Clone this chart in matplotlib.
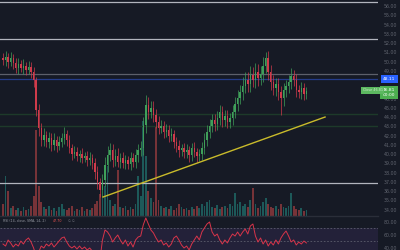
import matplotlib
matplotlib.use('Agg')
import matplotlib.pyplot as plt
from matplotlib.transforms import blended_transform_factory

# candle closes (price)
close = [50.16, 50.49, 49.95, 50.38, 49.84, 49.30, 49.73, 49.30, 49.52, 49.08,
         49.41, 48.87, 48.00, 44.76, 42.81, 41.52, 42.06, 41.30, 41.73, 40.98,
         41.52, 40.87, 41.30, 41.73, 42.16, 41.52, 40.65, 40.00, 40.22, 39.79,
         40.00, 39.57, 39.79, 39.35, 39.57, 39.03, 38.06, 36.98, 36.11, 37.19,
         38.81, 39.89, 40.44, 39.35, 39.79, 39.14, 39.57, 39.03, 39.35, 38.92,
         39.57, 39.14, 39.89, 40.44, 40.65, 43.14, 45.30, 44.54, 44.98, 44.22,
         43.46, 42.81, 43.03, 42.38, 42.60, 41.95, 42.16, 41.30, 40.87, 40.44,
         40.65, 40.22, 40.44, 39.89, 40.65, 40.22, 39.79, 40.00, 40.65, 41.52,
         42.38, 43.03, 43.68, 43.25, 43.89, 44.54, 43.68, 44.11, 43.46, 43.89,
         44.54, 45.41, 46.06, 46.70, 47.35, 48.00, 47.57, 48.54, 48.00, 48.87,
         48.22, 48.65, 49.52, 50.38, 48.87, 47.79, 47.14, 47.57, 46.70, 46.06,
         46.92, 47.35, 47.79, 48.43, 48.00, 46.92, 46.70, 47.14, 46.49, 46.81]
first_open = 50.40

wick_up = [0.55, 0.70, 0.40, 0.60, 0.45, 0.50, 0.65, 0.40, 0.70, 0.45,
           0.60, 0.50, 0.55, 0.30, 0.70, 0.55, 0.80, 0.45, 0.60, 0.50,
           0.75, 0.40, 0.60, 0.55, 0.80, 0.45, 0.50, 0.40, 0.65, 0.50,
           0.45, 0.60, 0.40, 0.55, 0.65, 0.45, 0.50, 0.60, 0.40, 0.70,
           0.90, 1.00, 0.75, 0.60, 0.70, 0.85, 0.50, 0.60, 0.55, 0.45,
           0.60, 0.50, 0.70, 0.60, 0.80, 0.90, 1.10, 0.90, 0.80, 0.70,
           0.60, 0.65, 0.60, 0.50, 0.60, 0.55, 0.60, 0.45, 0.50, 0.60,
           0.45, 0.50, 0.60, 0.45, 0.55, 0.60, 0.45, 0.50, 0.60, 0.70,
           0.75, 0.80, 0.70, 0.60, 0.75, 0.80, 0.60, 0.70, 0.60, 0.55,
           0.75, 0.80, 0.90, 0.75, 0.95, 0.90, 0.85, 1.00, 0.90, 0.95,
           0.85, 0.90, 1.00, 0.65, 0.75, 0.70, 0.75, 0.60, 0.70, 0.60,
           0.75, 0.70, 0.80, 0.85, 0.70, 0.60, 0.50, 0.60, 0.50, 0.40]
wick_dn = [0.50, 0.60, 0.70, 0.45, 0.60, 0.50, 0.70, 0.45, 0.60, 0.50,
           0.45, 0.70, 0.80, 0.60, 0.85, 0.60, 0.70, 0.50, 0.60, 0.70,
           0.50, 0.60, 0.45, 0.50, 0.60, 0.70, 0.50, 0.60, 0.45, 0.50,
           0.60, 0.50, 0.45, 0.60, 0.50, 0.60, 0.75, 0.80, 0.76, 0.75,
           0.70, 0.80, 0.60, 0.70, 0.60, 0.50, 0.60, 0.50, 0.60, 0.50,
           0.60, 0.50, 0.60, 0.70, 0.60, 0.75, 0.85, 0.80, 0.70, 0.80,
           0.70, 0.60, 0.50, 0.60, 0.50, 0.60, 0.50, 0.60, 0.70, 0.80,
           0.60, 0.70, 0.60, 0.70, 0.60, 0.50, 0.60, 0.50, 0.60, 0.70,
           0.60, 0.70, 0.60, 0.80, 0.60, 0.70, 0.80, 0.60, 0.70, 0.60,
           0.70, 0.60, 0.80, 0.70, 0.85, 0.80, 0.90, 0.85, 0.80, 0.90,
           0.85, 0.80, 0.85, 0.80, 0.90, 0.85, 0.80, 0.85, 0.90, 1.80,
           0.90, 0.80, 0.70, 0.80, 0.70, 0.80, 0.60, 0.70, 0.60, 0.50]

# volume (thousands)
volume = [12, 40, 25, 8, 10, 6, 8, 5, 9, 6,
          7, 10, 20, 86, 30, 14, 9, 7, 10, 6,
          8, 5, 9, 12, 7, 6, 8, 10, 5, 7,
          6, 9, 5, 7, 6, 8, 12, 15, 22, 18,
          30, 50, 16, 10, 12, 46, 9, 8, 10, 6,
          9, 7, 12, 40, 20, 95, 60, 25, 18, 14,
          90, 16, 10, 8, 9, 7, 10, 6, 8, 12,
          9, 7, 8, 6, 9, 7, 10, 8, 12, 10,
          14, 16, 9, 8, 11, 7, 9, 10, 8, 12,
          10, 23, 12, 14, 10, 12, 9, 16, 28, 12,
          8, 10, 14, 18, 12, 9, 8, 10, 7, 12,
          9, 8, 10, 23, 10, 7, 6, 8, 5, 6]

rsi = [46.1, 43.0, 52.3, 47.7, 41.5, 46.1, 43.0, 50.7, 46.1, 52.3,
       55.4, 49.2, 40.0, 27.6, 33.8, 43.0, 40.0, 46.1, 43.0, 47.7,
       41.5, 46.1, 50.7, 55.4, 56.9, 49.2, 43.0, 40.0, 43.0, 38.4,
       43.0, 38.4, 41.5, 36.9, 40.0, 35.3, 30.7, 24.6, 21.5, 52.3,
       67.7, 64.6, 58.4, 49.2, 55.4, 60.0, 52.3, 46.1, 52.3, 43.0,
       49.2, 41.5, 52.3, 56.9, 58.4, 75.4, 86.2, 76.9, 67.7, 63.1,
       55.4, 49.2, 52.3, 44.6, 47.7, 41.5, 46.1, 55.4, 58.4, 52.3,
       44.6, 40.0, 43.0, 36.9, 46.1, 52.3, 58.4, 52.3, 64.6, 70.8,
       76.9, 80.0, 64.6, 58.4, 61.5, 52.3, 46.1, 52.3, 47.7, 55.4,
       61.5, 58.4, 64.6, 58.4, 64.6, 69.2, 61.5, 73.8, 76.9, 58.4,
       49.2, 55.4, 46.1, 52.3, 43.0, 49.2, 44.6, 52.3, 46.1, 55.4,
       61.5, 66.1, 58.4, 49.2, 52.3, 44.6, 49.2, 46.1, 50.7, 47.7]

levels_light = [56.43, 52.43, 36.87]
level_gray = 48.65
level_blue = 48.11
levels_green = [44.33, 43.03]
trend_x = [39.2, 126.3]
trend_y = [35.35, 44.00]
# 47 and 48 sit under the last-price and level labels
price_ticks = [t for t in range(34, 57) if t not in (47, 48)]
rsi_ticks = [40, 60, 80]
last_time = '00:00'

bg = '#161a25'
up_c, dn_c = '#3f9f5a', '#cf3b4b'
txt_c = '#5f636e'

fig = plt.figure(figsize=(4, 2.5), dpi=100, facecolor=bg)
ax = fig.add_axes([0, 0.136, 0.945, 0.864])
axv = ax.twinx()
axr = fig.add_axes([0, 0, 0.945, 0.136])
ax.set_zorder(axv.get_zorder() + 1)
ax.patch.set_visible(False)
axv.patch.set_facecolor(bg)
axr.set_facecolor(bg)

n = len(close)
x = list(range(n))
opens = [first_open] + close[:-1]
cols = [up_c if c >= o else dn_c for o, c in zip(opens, close)]
highs = [max(o, c) + w for o, c, w in zip(opens, close, wick_up)]
lows = [min(o, c) - w for o, c, w in zip(opens, close, wick_dn)]

# levels and trendline
for lv in levels_light:
    ax.axhline(lv, color='#b2b5be', lw=0.9, zorder=1)
ax.axhline(level_gray, color='#5d606b', lw=0.9, zorder=1)
ax.axhline(level_blue, color='#243c8a', lw=0.9, zorder=1)
for lv in levels_green:
    ax.axhline(lv, color='#1d3a2a', lw=1.0, zorder=1)

# candles
ax.vlines(x, lows, highs, colors=cols, lw=0.5, zorder=3)
ax.bar(x, [max(abs(c - o), 0.04) for o, c in zip(opens, close)],
       bottom=[min(o, c) for o, c in zip(opens, close)],
       width=0.55, color=cols, zorder=4)
ax.plot(trend_x, trend_y, color='#c9bb2b', lw=1.0, zorder=5)

ax.set_xlim(-1.18, 147.06)
ax.set_ylim(33.30, 56.65)
ax.yaxis.tick_right()
ax.set_yticks(price_ticks)
ax.set_yticklabels([f'{t:.2f}' for t in price_ticks])
ax.tick_params(axis='y', length=0, pad=4, labelsize=3.4, labelcolor=txt_c)
ax.set_xticks([])

# volume overlay
axv.bar(x, volume, width=0.7, color=['#26a69a' if c == up_c else '#ef5350' for c in cols],
        alpha=0.45)
axv.set_ylim(0, max(volume) * 2.27)
axv.set_yticks([])

for a in (ax, axv, axr):
    for s in a.spines.values():
        s.set_visible(False)

# price labels on the scale
tr = blended_transform_factory(ax.transAxes, ax.transData)
ax.text(1.013, level_blue, f'{level_blue:.2f}', transform=tr, fontsize=3.2, color='white',
        va='center', ha='left', zorder=10, clip_on=False,
        bbox=dict(boxstyle='square,pad=0.5', fc='#2962ff', ec='none'))
ax.text(1.013, close[-1] - 0.15, f'{close[-1]:.2f}\n{last_time}', transform=tr, fontsize=3.2,
        color='white', va='center', ha='left', linespacing=1.1, zorder=10, clip_on=False,
        bbox=dict(boxstyle='square,pad=0.6', fc='#4caf50', ec='none'))
ax.text(141.0, close[-1] + 0.1, 'Close 46.81', fontsize=2.4, color='#cfe8cf', va='center',
        ha='left', zorder=10, bbox=dict(boxstyle='square,pad=0.45', fc='#5cb860', ec='none'))

# RSI pane
axr.axhspan(30, 70, color='#7e57c2', alpha=0.13, lw=0)
axr.axhline(70, color='#787b86', lw=0.4, ls=(0, (3, 3)))
axr.axhline(50, color='#787b86', lw=0.4, ls=(0, (3, 3)))
axr.plot(x, rsi, color='#d8344a', lw=0.7)
axr.set_xlim(-1.18, 147.06)
axr.set_ylim(36.9, 89.2)
axr.yaxis.tick_right()
axr.set_yticks(rsi_ticks)
axr.set_yticklabels([f'{t:.2f}' for t in rsi_ticks])
axr.tick_params(axis='y', length=0, pad=4, labelsize=3.4, labelcolor=txt_c)
axr.set_xticks([])
axr.spines['top'].set_visible(True)
axr.spines['top'].set_color('#2a2e39')
axr.spines['top'].set_linewidth(1.0)
axr.text(0.008, 0.84, 'RSI (14, close, SMA, 14, 2)', transform=axr.transAxes,
         fontsize=2.3, color='#9598a1', va='center')
axr.text(0.14, 0.84, f'{rsi[-1]:.2f}', transform=axr.transAxes,
         fontsize=2.3, color='#ef5350', va='center')
axr.text(0.18, 0.84, '\u2205 \u2205', transform=axr.transAxes,
         fontsize=2.3, color='#787b86', va='center')

fig.savefig('out.png', dpi=100, facecolor=bg)
